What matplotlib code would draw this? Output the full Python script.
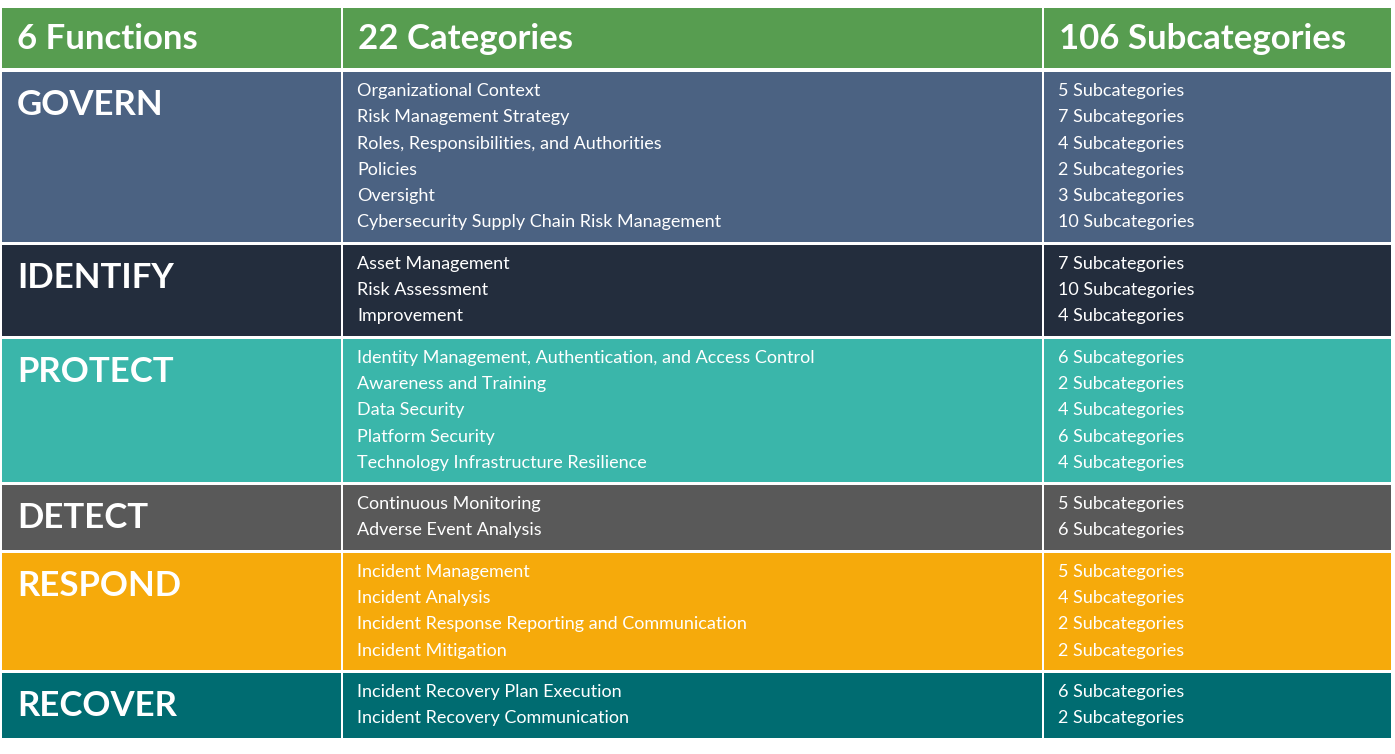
import matplotlib
matplotlib.use("Agg")
import matplotlib.pyplot as plt
from matplotlib.patches import Rectangle

headers = ["6 Functions", "22 Categories", "106 Subcategories"]
functions = ["GOVERN", "IDENTIFY", "PROTECT", "DETECT", "RESPOND", "RECOVER"]
categories = [
    ["Organizational Context", "Risk Management Strategy", "Roles, Responsibilities, and Authorities",
     "Policies", "Oversight", "Cybersecurity Supply Chain Risk Management"],
    ["Asset Management", "Risk Assessment", "Improvement"],
    ["Identity Management, Authentication, and Access Control", "Awareness and Training",
     "Data Security", "Platform Security", "Technology Infrastructure Resilience"],
    ["Continuous Monitoring", "Adverse Event Analysis"],
    ["Incident Management", "Incident Analysis", "Incident Response Reporting and Communication",
     "Incident Mitigation"],
    ["Incident Recovery Plan Execution", "Incident Recovery Communication"],
]
subcounts = [[5, 7, 4, 2, 3, 10], [7, 10, 4], [6, 2, 4, 6, 4], [5, 6], [5, 4, 2, 2], [6, 2]]
row_colors = ["#4b6282", "#232d3d", "#3ab6aa", "#595959", "#f6aa0b", "#006c71"]
header_color = "#579d50"

plt.rcParams['font.family'] = ['Lato', 'DejaVu Sans']
fig = plt.figure(figsize=(13.95, 7.54), dpi=100)
ax = fig.add_axes([0, 0, 1, 1])
ax.set_xlim(0, 1395); ax.set_ylim(754, 0); ax.axis("off")

cols = [(2, 339), (343, 699), (1044, 347)]
# header
for (x, w), h in zip(cols, headers):
    ax.add_patch(Rectangle((x, 8), w, 60, color=header_color, lw=0))
    ax.text(x + 15, 39, h, color="white", fontsize=25, fontweight="bold", va="center")

y = 72
for f, cats, cnts, c in zip(functions, categories, subcounts, row_colors):
    h = 26.3 * len(cats) + 12
    for x, w in cols:
        ax.add_patch(Rectangle((x, y), w, h, color=c, lw=0))
    ax.text(17, y + 33, f, color="white", fontsize=25, fontweight="bold", va="center")
    for i, (cat, n) in enumerate(zip(cats, cnts)):
        yy = y + 19 + 26.3 * i
        ax.text(357, yy, cat, color="white", fontsize=13, va="center")
        ax.text(1058, yy, f"{n} Subcategories", color="white", fontsize=13, va="center")
    y += h + 3

fig.savefig("out.png", dpi=100, facecolor="white")
